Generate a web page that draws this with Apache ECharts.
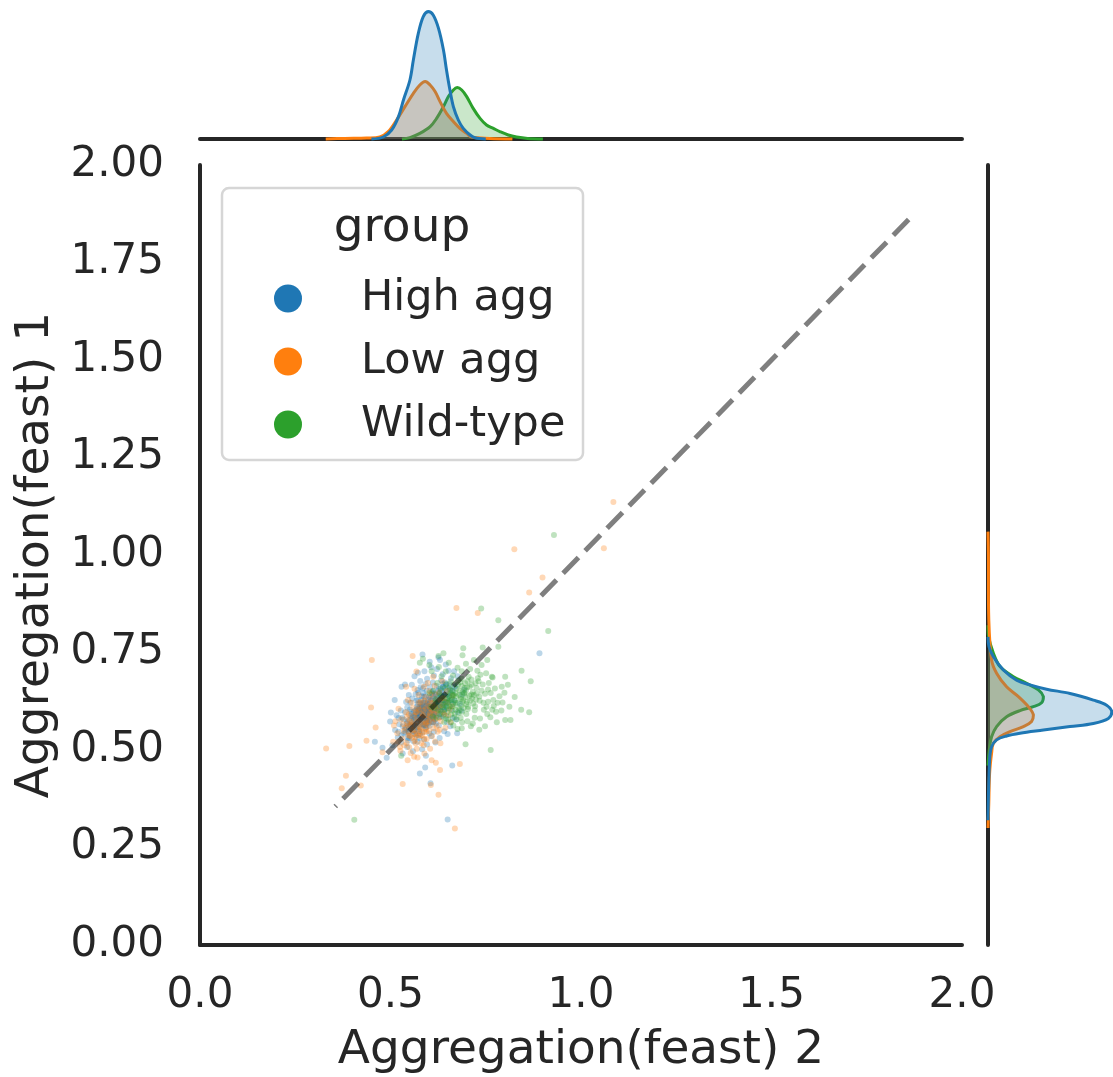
<!DOCTYPE html>
<html>
<head>
<meta charset="utf-8">
<script src="https://cdn.jsdelivr.net/npm/echarts@6/dist/echarts.min.js"></script>
<style>
  html, body { margin: 0; padding: 0; background: #ffffff; }
  #chart { width: 1113px; height: 1077px; }
</style>
</head>
<body>
<div id="chart"></div>
<script>
// ---- groups ----
const groups = ['High agg', 'Low agg', 'Wild-type'];
const groupColors = ['#1f77b4', '#ff7f0e', '#2ca02c'];

// ---- per-cell measurements: [feast 2, feast 1] ----
const highAgg = [
  [0.598,0.601],[0.572,0.583],[0.615,0.622],[0.589,0.571],[0.634,0.640],[0.561,0.548],[0.607,0.594],[0.583,0.612],[0.621,0.607],[0.594,0.588],
  [0.548,0.553],[0.611,0.631],[0.579,0.596],[0.642,0.618],[0.603,0.577],[0.567,0.589],[0.626,0.651],[0.591,0.604],[0.557,0.571],[0.618,0.594],
  [0.586,0.562],[0.631,0.611],[0.599,0.629],[0.574,0.606],[0.612,0.581],[0.545,0.531],[0.653,0.637],[0.595,0.615],[0.569,0.559],[0.606,0.612],
  [0.581,0.595],[0.624,0.629],[0.563,0.578],[0.638,0.662],[0.592,0.556],[0.615,0.603],[0.552,0.565],[0.601,0.637],[0.577,0.586],[0.629,0.584],
  [0.536,0.542],[0.608,0.598],[0.585,0.622],[0.647,0.609],[0.566,0.601],[0.619,0.641],[0.596,0.574],[0.575,0.548],[0.639,0.626],[0.589,0.592],
  [0.559,0.585],[0.613,0.572],[0.597,0.608],[0.528,0.519],[0.632,0.654],[0.571,0.568],[0.604,0.621],[0.583,0.601],[0.657,0.655],[0.593,0.579],
  [0.612,0.614],[0.548,0.577],[0.626,0.598],[0.587,0.637],[0.564,0.541],[0.601,0.583],[0.578,0.611],[0.643,0.673],[0.592,0.596],[0.555,0.592],
  [0.617,0.626],[0.573,0.553],[0.635,0.617],[0.599,0.568],[0.541,0.556],[0.609,0.645],[0.586,0.584],[0.621,0.587],[0.568,0.627],[0.604,0.605],
  [0.662,0.641],[0.582,0.576],[0.595,0.652],[0.551,0.536],[0.628,0.612],[0.574,0.597],[0.611,0.589],[0.532,0.561],[0.645,0.632],[0.596,0.619],
  [0.579,0.566],[0.616,0.606],[0.562,0.599],[0.603,0.562],[0.637,0.669],[0.588,0.607],[0.546,0.524],[0.623,0.638],[0.593,0.586],[0.571,0.617],
  [0.608,0.611],[0.584,0.545],[0.652,0.624],[0.565,0.562],[0.599,0.593],[0.627,0.657],[0.556,0.583],[0.614,0.596],[0.581,0.628],[0.642,0.603],
  [0.521,0.547],[0.597,0.581],[0.576,0.603],[0.619,0.619],[0.563,0.551],[0.605,0.634],[0.589,0.598],[0.633,0.592],[0.551,0.604],[0.612,0.571],
  [0.594,0.613],[0.668,0.661],[0.578,0.579],[0.624,0.615],[0.543,0.568],[0.601,0.599],[0.585,0.658],[0.639,0.647],[0.567,0.537],[0.609,0.585],
  [0.558,0.565],[0.617,0.644],[0.591,0.563],[0.636,0.628],[0.574,0.589],[0.602,0.617],[0.529,0.538],[0.648,0.621],[0.583,0.609],[0.613,0.603],
  [0.597,0.576],[0.569,0.611],[0.622,0.632],[0.586,0.591],[0.655,0.669],[0.547,0.549],[0.607,0.627],[0.579,0.572],[0.631,0.601],[0.592,0.638],
  [0.615,0.589],[0.561,0.577],[0.598,0.611],[0.644,0.654],[0.576,0.558],[0.606,0.596],[0.538,0.552],[0.627,0.622],[0.589,0.583],[0.572,0.628],
  [0.609,0.648],[0.583,0.595],[0.639,0.609],[0.553,0.561],[0.618,0.607],[0.595,0.569],[0.568,0.592],[0.661,0.628],[0.602,0.606],[0.577,0.541],
  [0.621,0.613],[0.587,0.622],[0.549,0.545],[0.632,0.641],[0.599,0.587],[0.573,0.602],[0.612,0.582],[0.588,0.564],[0.646,0.667],[0.563,0.585],
  [0.603,0.589],[0.581,0.617],[0.626,0.606],[0.566,0.572],[0.611,0.638],[0.594,0.559],[0.638,0.621],[0.552,0.587],[0.617,0.579],[0.587,0.605],
  [0.574,0.583],[0.629,0.646],[0.599,0.602],[0.547,0.561],[0.614,0.592],[0.582,0.638],[0.641,0.598],[0.568,0.604],[0.605,0.571],[0.591,0.623],
  [0.623,0.628],[0.559,0.549],[0.596,0.593],[0.633,0.585],[0.577,0.619],[0.612,0.652],[0.544,0.573],[0.601,0.611],[0.649,0.642],[0.585,0.566],
  [0.608,0.603],[0.571,0.591],[0.637,0.638],[0.593,0.576],[0.554,0.598],[0.619,0.568],[0.582,0.609],[0.664,0.651],[0.598,0.624],[0.561,0.557],
  [0.512,0.551],[0.527,0.601],[0.534,0.578],[0.541,0.623],[0.519,0.532],[0.505,0.512],[0.548,0.641],[0.556,0.667],[0.563,0.689],[0.571,0.654],
  [0.578,0.677],[0.589,0.702],[0.596,0.683],[0.603,0.726],[0.614,0.691],[0.622,0.708],[0.637,0.694],[0.645,0.719],[0.659,0.684],[0.667,0.702],
  [0.671,0.664],[0.682,0.618],[0.694,0.655],[0.676,0.597],[0.663,0.582],[0.657,0.561],[0.648,0.572],[0.641,0.548],[0.629,0.531],[0.618,0.519],
  [0.607,0.535],[0.596,0.514],[0.583,0.502],[0.571,0.521],[0.559,0.497],[0.544,0.508],[0.532,0.491],[0.523,0.566],[0.516,0.589],[0.538,0.597],
  [0.552,0.621],[0.566,0.643],[0.579,0.661],[0.592,0.669],[0.611,0.673],[0.633,0.679],[0.652,0.659],[0.668,0.627],[0.659,0.604],[0.646,0.587],
  [0.627,0.563],[0.614,0.547],[0.602,0.542],[0.588,0.527],[0.575,0.531],[0.561,0.522],[0.549,0.531],[0.539,0.546],[0.531,0.583],[0.544,0.609],
  [0.557,0.632],[0.573,0.647],[0.586,0.646],[0.604,0.661],[0.621,0.664],[0.638,0.661],[0.651,0.644],[0.663,0.617],[0.672,0.578],[0.686,0.601],
  [0.584,0.745],[0.630,0.731],[0.607,0.712],[0.572,0.698],[0.652,0.703],[0.538,0.668],[0.511,0.628],[0.521,0.582],[0.676,0.689],[0.688,0.642],
  [0.891,0.748],[0.650,0.322],[0.662,0.460],[0.577,0.440],[0.591,0.455],[0.593,0.485],[0.459,0.521],[0.479,0.506],[0.490,0.480],[0.605,0.415],
  [0.675,0.543],[0.650,0.541],[0.529,0.662],[0.501,0.596],[0.499,0.573],[0.626,0.737]
];

const lowAgg = [
  [0.582,0.571],[0.561,0.552],[0.603,0.594],[0.574,0.603],[0.618,0.612],[0.547,0.538],[0.592,0.566],[0.569,0.581],[0.631,0.627],[0.588,0.547],
  [0.556,0.572],[0.611,0.583],[0.579,0.536],[0.597,0.621],[0.538,0.557],[0.624,0.601],[0.585,0.589],[0.563,0.524],[0.605,0.642],[0.572,0.561],
  [0.617,0.578],[0.548,0.591],[0.593,0.605],[0.576,0.548],[0.641,0.633],[0.566,0.597],[0.599,0.562],[0.531,0.529],[0.612,0.619],[0.584,0.612],
  [0.569,0.543],[0.602,0.586],[0.553,0.563],[0.628,0.648],[0.589,0.528],[0.574,0.622],[0.609,0.603],[0.542,0.518],[0.596,0.579],[0.581,0.594],
  [0.621,0.561],[0.559,0.608],[0.594,0.547],[0.636,0.614],[0.571,0.574],[0.606,0.631],[0.548,0.545],[0.587,0.601],[0.615,0.592],[0.565,0.533],
  [0.599,0.613],[0.577,0.558],[0.543,0.584],[0.626,0.582],[0.591,0.636],[0.562,0.541],[0.611,0.571],[0.583,0.584],[0.535,0.549],[0.648,0.651],
  [0.586,0.567],[0.604,0.608],[0.568,0.596],[0.622,0.629],[0.557,0.531],[0.595,0.589],[0.579,0.623],[0.613,0.556],[0.551,0.576],[0.601,0.574],
  [0.573,0.609],[0.638,0.596],[0.592,0.553],[0.561,0.566],[0.617,0.643],[0.583,0.538],[0.607,0.597],[0.546,0.562],[0.629,0.611],[0.589,0.626],
  [0.507,0.521],[0.518,0.543],[0.526,0.498],[0.533,0.566],[0.541,0.597],[0.549,0.507],[0.555,0.621],[0.562,0.588],[0.569,0.503],[0.574,0.641],
  [0.581,0.517],[0.588,0.662],[0.595,0.528],[0.602,0.651],[0.609,0.536],[0.616,0.665],[0.624,0.547],[0.632,0.574],[0.641,0.591],[0.649,0.622],
  [0.657,0.571],[0.528,0.579],[0.536,0.512],[0.544,0.569],[0.551,0.536],[0.558,0.551],[0.566,0.517],[0.573,0.538],[0.579,0.553],[0.587,0.512],
  [0.594,0.571],[0.601,0.549],[0.608,0.621],[0.615,0.609],[0.622,0.596],[0.629,0.552],[0.636,0.633],[0.513,0.574],[0.521,0.522],[0.553,0.492],
  [0.571,0.481],[0.589,0.491],[0.604,0.503],[0.617,0.522],[0.631,0.517],[0.644,0.557],[0.652,0.589],[0.661,0.612],[0.546,0.628],[0.563,0.657],
  [0.558,0.741],[0.568,0.701],[0.612,0.688],[0.541,0.662],[0.636,0.676],[0.521,0.606],[0.663,0.639],[0.598,0.672],[0.509,0.563],[0.655,0.604],
  [1.085,1.136],[0.825,1.015],[1.060,1.017],[0.899,0.942],[0.864,0.904],[0.673,0.864],[0.729,0.851],[0.451,0.731],[0.449,0.609],[0.461,0.558],
  [0.437,0.524],[0.331,0.504],[0.392,0.510],[0.479,0.494],[0.383,0.434],[0.372,0.402],[0.422,0.409],[0.532,0.413],[0.626,0.385],[0.606,0.410],
  [0.669,0.299],[0.682,0.464],[0.630,0.449],[0.619,0.467],[0.562,0.483],[0.545,0.474],[0.525,0.508],[0.608,0.474]
];

const wildType = [
  [0.672,0.638],[0.651,0.621],[0.694,0.647],[0.663,0.612],[0.708,0.662],[0.641,0.603],[0.685,0.631],[0.657,0.654],[0.719,0.641],[0.678,0.609],
  [0.636,0.627],[0.701,0.624],[0.667,0.668],[0.688,0.598],[0.645,0.641],[0.726,0.659],[0.659,0.591],[0.681,0.652],[0.614,0.608],[0.697,0.636],
  [0.676,0.622],[0.712,0.681],[0.649,0.633],[0.687,0.664],[0.662,0.601],[0.733,0.637],[0.624,0.618],[0.671,0.646],[0.703,0.605],[0.655,0.663],
  [0.691,0.628],[0.638,0.585],[0.716,0.649],[0.669,0.627],[0.683,0.674],[0.647,0.612],[0.742,0.668],[0.664,0.641],[0.699,0.617],[0.628,0.644],
  [0.679,0.595],[0.707,0.639],[0.654,0.627],[0.722,0.612],[0.673,0.657],[0.633,0.599],[0.696,0.671],[0.661,0.632],[0.748,0.644],[0.686,0.614],
  [0.643,0.659],[0.709,0.626],[0.668,0.584],[0.731,0.676],[0.657,0.646],[0.692,0.608],[0.619,0.631],[0.677,0.667],[0.714,0.633],[0.665,0.618],
  [0.698,0.652],[0.652,0.607],[0.724,0.629],[0.681,0.641],[0.639,0.616],[0.705,0.688],[0.671,0.603],[0.756,0.655],[0.646,0.669],[0.689,0.623],
  [0.611,0.586],[0.736,0.693],[0.684,0.583],[0.658,0.676],[0.721,0.602],[0.631,0.658],[0.693,0.644],[0.674,0.579],[0.744,0.621],[0.602,0.646],
  [0.662,0.652],[0.704,0.611],[0.648,0.596],[0.687,0.683],[0.726,0.644],[0.671,0.621],[0.637,0.611],[0.713,0.667],[0.681,0.602],[0.655,0.639],
  [0.694,0.659],[0.669,0.593],[0.739,0.652],[0.625,0.603],[0.702,0.676],[0.658,0.628],[0.717,0.619],[0.684,0.636],[0.646,0.581],[0.729,0.684],
  [0.612,0.651],[0.623,0.672],[0.634,0.689],[0.645,0.701],[0.653,0.724],[0.664,0.691],[0.676,0.711],[0.687,0.702],[0.698,0.721],[0.709,0.708],
  [0.719,0.731],[0.728,0.703],[0.739,0.718],[0.751,0.697],[0.758,0.672],[0.763,0.646],[0.771,0.613],[0.779,0.571],[0.762,0.584],[0.748,0.561],
  [0.733,0.552],[0.721,0.583],[0.711,0.561],[0.699,0.592],[0.688,0.571],[0.676,0.554],[0.665,0.563],[0.652,0.578],[0.641,0.571],[0.629,0.592],
  [0.618,0.622],[0.607,0.611],[0.621,0.583],[0.633,0.638],[0.644,0.624],[0.655,0.612],[0.667,0.641],[0.678,0.679],[0.689,0.649],[0.701,0.661],
  [0.712,0.642],[0.723,0.671],[0.734,0.626],[0.745,0.603],[0.756,0.624],[0.767,0.603],[0.781,0.621],[0.794,0.622],[0.812,0.611],[0.826,0.636],
  [0.691,0.761],[0.742,0.763],[0.716,0.568],[0.735,0.581],[0.774,0.658],[0.792,0.662],[0.766,0.688],[0.799,0.647],[0.786,0.638],[0.770,0.628],
  [0.752,0.611],[0.791,0.601],[0.777,0.598],[0.754,0.592],[0.689,0.743],[0.754,0.731],[0.639,0.748],[0.577,0.724],[0.608,0.702],[0.627,0.713],
  [0.929,1.051],[0.738,0.863],[0.783,0.833],[0.914,0.805],[0.783,0.765],[0.844,0.703],[0.868,0.676],[0.843,0.603],[0.864,0.597],[0.815,0.577],
  [0.801,0.577],[0.763,0.500],[0.697,0.515],[0.528,0.485],[0.405,0.321],[0.808,0.667],[0.801,0.688],[0.768,0.686],[0.585,0.734],[0.626,0.741],
  [0.602,0.718],[0.687,0.556],[0.659,0.571],[0.702,0.574]
];

// ---- marginal densities: [value, density] ----
const kdeXHigh = [
  [0.450,0],[0.481,0.10],[0.503,0.45],[0.521,1.12],[0.534,1.95],[0.551,2.95],[0.560,3.95],[0.573,5.28],[0.586,6.12],[0.599,6.37],
  [0.612,6.20],[0.626,5.53],[0.639,4.45],[0.647,3.45],[0.656,2.45],[0.665,1.62],[0.678,0.95],[0.691,0.53],[0.709,0.20],[0.722,0.06],[0.750,0]
];
const kdeXLow = [
  [0.330,0],[0.380,0.03],[0.437,0.05],[0.472,0.10],[0.494,0.37],[0.516,0.95],[0.538,1.62],[0.560,2.28],[0.577,2.70],[0.591,2.87],
  [0.604,2.70],[0.617,2.37],[0.630,1.87],[0.647,1.28],[0.665,0.87],[0.682,0.53],[0.700,0.28],[0.713,0.10],[0.760,0.03],[0.820,0]
];
const kdeXWild = [
  [0.530,0],[0.551,0.07],[0.577,0.28],[0.604,0.62],[0.621,1.03],[0.639,1.62],[0.652,2.12],[0.665,2.45],[0.675,2.57],[0.687,2.45],
  [0.700,2.12],[0.717,1.53],[0.735,1.03],[0.752,0.70],[0.770,0.53],[0.787,0.37],[0.809,0.20],[0.831,0.10],[0.860,0.03],[0.900,0]
];
const kdeYHigh = [
  [0.320,0],[0.474,0.08],[0.508,0.18],[0.526,0.43],[0.536,0.93],[0.543,1.60],[0.551,2.77],[0.560,4.10],[0.568,5.27],[0.581,6.02],
  [0.598,6.19],[0.615,5.93],[0.628,5.27],[0.645,4.10],[0.656,2.93],[0.667,2.10],[0.679,1.43],[0.705,0.77],[0.739,0.27],[0.765,0.05],[0.790,0]
];
const kdeYLow = [
  [0.300,0],[0.363,0.04],[0.440,0.08],[0.492,0.18],[0.517,0.27],[0.534,0.60],[0.547,1.10],[0.560,1.77],[0.573,2.18],
  [0.590,2.27],[0.611,2.02],[0.637,1.52],[0.662,0.93],[0.697,0.43],[0.731,0.18],[0.833,0.04],[1.000,0.02],[1.060,0]
];
const kdeYWild = [
  [0.460,0],[0.508,0.08],[0.534,0.18],[0.560,0.43],[0.585,0.93],[0.601,1.60],[0.611,2.27],[0.621,2.68],[0.637,2.77],[0.654,2.52],
  [0.671,1.93],[0.688,1.27],[0.714,0.60],[0.748,0.27],[0.790,0.03],[0.820,0]
];

// ---- axis ticks and reference diagonal ----
const xTicks = [0.0, 0.5, 1.0, 1.5, 2.0];
const yTicks = [0.00, 0.25, 0.50, 0.75, 1.00, 1.25, 1.50, 1.75, 2.00];
const diagonal = [1.86, 0.355];   // y = x, drawn from top end to bottom end

const FONT = 'DejaVu Sans';
const INK = '#262626';

function rgba(hex, a) {
  const n = parseInt(hex.slice(1), 16);
  return 'rgba(' + (n >> 16) + ',' + ((n >> 8) & 255) + ',' + (n & 255) + ',' + a + ')';
}

// Filled density outline, drawn once per series from its own points
function densityRenderer(color, curve) {
  return function (params, api) {
    if (params.dataIndex !== 0) return null;
    const pts = curve.map(function (p) { return api.coord(p); });
    const box = [pts[0].slice(), pts[0].slice()];   // keeps bezier handles inside the curve's own bounds
    return {
      type: 'group',
      children: [
        { type: 'polygon', shape: { points: pts, smooth: 0.35, smoothConstraint: box },
          style: { fill: rgba(color, 0.25), stroke: null } },
        { type: 'polyline', shape: { points: pts, smooth: 0.35, smoothConstraint: box },
          style: { fill: null, stroke: color, lineWidth: 3, lineJoin: 'round' } }
      ]
    };
  };
}

const points = [highAgg, lowAgg, wildType];
const kdeTop = [kdeXHigh, kdeXLow, kdeXWild];
const kdeRight = [kdeYHigh, kdeYLow, kdeYWild];

const series = [];
// marginal densities: later groups underneath, first group on top
[2, 1, 0].forEach(function (g) {
  const top = kdeTop[g];
  const right = kdeRight[g].map(function (p) { return [p[1], p[0]]; });
  series.push({
    type: 'custom', name: groups[g] + ' (x density)', xAxisIndex: 1, yAxisIndex: 1,
    data: top, encode: { x: 0, y: 1 }, renderItem: densityRenderer(groupColors[g], top),
    silent: true, z: 2
  });
  series.push({
    type: 'custom', name: groups[g] + ' (y density)', xAxisIndex: 2, yAxisIndex: 2,
    data: right, encode: { x: 0, y: 1 }, renderItem: densityRenderer(groupColors[g], right),
    silent: true, z: 2
  });
});
// joint scatter
[0, 1, 2].forEach(function (g) {
  series.push({
    type: 'scatter', name: groups[g], xAxisIndex: 0, yAxisIndex: 0,
    data: points[g], symbol: 'circle', symbolSize: 6,
    itemStyle: { color: groupColors[g], opacity: 0.3 }, z: 2
  });
});
// identity line
series.push({
  type: 'line', name: 'y = x', xAxisIndex: 0, yAxisIndex: 0,
  data: diagonal.map(function (v) { return [v, v]; }),
  symbol: 'none', silent: true, z: 4,
  lineStyle: { color: 'rgba(0,0,0,0.5)', width: 5, type: [22, 9.5], cap: 'butt' }
});

const spine = { show: true, onZero: false, lineStyle: { color: INK, width: 4 } };
const hidden = { show: false };

const option = {
  animation: false,
  backgroundColor: '#ffffff',
  textStyle: { fontFamily: FONT },
  grid: [
    { left: 200, top: 165, width: 762, height: 780, outerBoundsMode: 'none', containLabel: false },
    { left: 200, top: 0, width: 762, height: 139, outerBoundsMode: 'none', containLabel: false },
    { left: 988, top: 165, width: 125, height: 780, outerBoundsMode: 'none', containLabel: false }
  ],
  xAxis: [
    {
      gridIndex: 0, type: 'value', min: xTicks[0], max: xTicks[xTicks.length - 1],
      interval: xTicks[1] - xTicks[0],
      axisLine: spine, axisTick: hidden, splitLine: hidden,
      axisLabel: { fontSize: 42, color: INK, fontFamily: FONT, margin: 30,
        formatter: function (v) { return v.toFixed(1); } },
      name: 'Aggregation(feast) 2', nameLocation: 'middle', nameGap: 82,
      nameTextStyle: { fontSize: 47, color: INK, fontFamily: FONT }
    },
    {
      gridIndex: 1, type: 'value', min: 0, max: 2,
      axisLine: spine, axisTick: hidden, axisLabel: hidden, splitLine: hidden
    },
    {
      gridIndex: 2, type: 'value', min: 0, max: 6.25,
      axisLine: hidden, axisTick: hidden, axisLabel: hidden, splitLine: hidden
    }
  ],
  yAxis: [
    {
      gridIndex: 0, type: 'value', min: yTicks[0], max: yTicks[yTicks.length - 1],
      interval: yTicks[1] - yTicks[0],
      axisLine: spine, axisTick: hidden, splitLine: hidden,
      axisLabel: { fontSize: 42, color: INK, fontFamily: FONT, margin: 36,
        formatter: function (v) { return v.toFixed(2); } },
      name: 'Aggregation(feast) 1', nameLocation: 'middle', nameGap: 137, nameRotate: 90,
      nameTextStyle: { fontSize: 47, color: INK, fontFamily: FONT }
    },
    {
      gridIndex: 1, type: 'value', min: 0, max: 6.95,
      axisLine: hidden, axisTick: hidden, axisLabel: hidden, splitLine: hidden
    },
    {
      gridIndex: 2, type: 'value', min: 0, max: 2,
      axisLine: spine, axisTick: hidden, axisLabel: hidden, splitLine: hidden
    }
  ],
  legend: {
    data: groups, orient: 'vertical', left: 269, top: 272, z: 10,
    icon: 'circle', itemWidth: 28, itemHeight: 28, itemGap: 20,
    selectedMode: false,
    itemStyle: { opacity: 1 },
    textStyle: { fontSize: 43, color: INK, fontFamily: FONT, padding: [0, 0, 0, 54] }
  },
  graphic: {
    elements: [
      { type: 'rect', z: 5, shape: { x: 222, y: 188, width: 361, height: 272, r: 7 },
        style: { fill: 'rgba(255,255,255,0.8)', stroke: '#d6d6d6', lineWidth: 2.5 } },
      { type: 'text', z: 6, x: 402, y: 229,
        style: { text: 'group', font: '47px "DejaVu Sans"', fill: INK, align: 'center', verticalAlign: 'middle' } }
    ]
  },
  series: series
};

const chart = echarts.init(document.getElementById('chart'), null, { renderer: 'canvas' });
chart.setOption(option);
</script>
</body>
</html>
